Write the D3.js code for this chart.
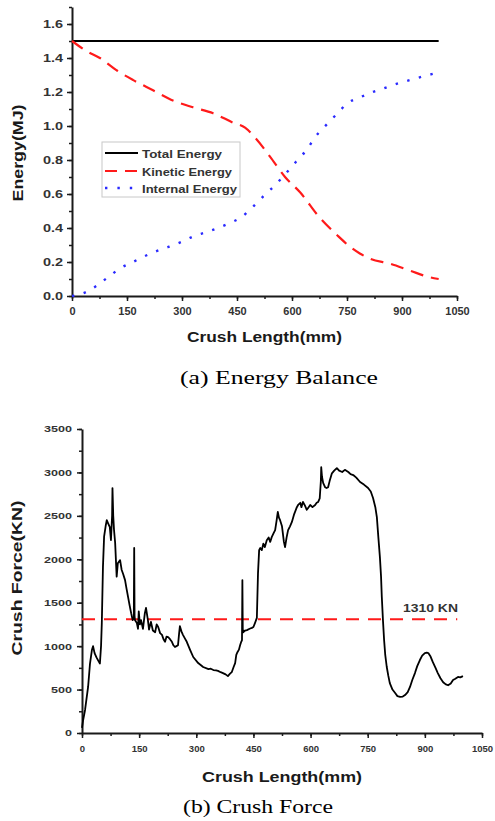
<!DOCTYPE html>
<html><head><meta charset="utf-8">
<script src="https://cdn.jsdelivr.net/npm/d3@7"></script>
<style>body{margin:0;background:#fff}svg{display:block}</style>
</head><body><svg id="c" width="495" height="821"></svg>
<script>
// ---------- data ----------
const lengthTicks = [0,150,300,450,600,750,900,1050];
const energyTicks = [0,0.2,0.4,0.6,0.8,1.0,1.2,1.4,1.6];
const forceTicks = [0,500,1000,1500,2000,2500,3000,3500];
const legendLabels = ["Total Energy","Kinetic Energy","Internal Energy"];
const totalEnergy = [[0,1.5],[1000,1.5]];
const kineticEnergy = [[0,1.5],[40,1.44],[76,1.40],[120,1.33],[167,1.27],[221,1.21],[270,1.155],[330,1.11],[385,1.075],[439,1.02],[472,0.99],[500,0.93],[540,0.82],[581,0.70],[622,0.61],[676,0.46],[722,0.36],[758,0.29],[785,0.25],[812,0.22],[867,0.19],[921,0.15],[976,0.11],[1000,0.10]];
const internalEnergy = [[0,0],[35,0.02],[67,0.06],[98,0.11],[133,0.165],[166,0.2],[199,0.235],[232,0.265],[265,0.29],[300,0.32],[330,0.35],[365,0.375],[398,0.40],[431,0.43],[463,0.465],[496,0.53],[521,0.585],[553,0.65],[583,0.72],[611,0.79],[640,0.86],[665,0.94],[693,1.005],[722,1.07],[752,1.135],[787,1.17],[820,1.20],[848,1.22],[881,1.245],[913,1.265],[946,1.285],[981,1.305],[1000,1.315]];
const crushForce = [[0,60],[3,150],[8,265],[16,530],[21,800],[26,955],[29,1000],[33,920],[38,870],[43,830],[47,800],[50,1000],[52,1265],[55,1910],[58,2260],[62,2380],[65,2450],[68,2420],[73,2370],[76,2220],[79,2500],[80,2820],[82,2500],[84,2340],[87,2190],[91,1800],[94,1955],[100,1990],[104,1880],[108,1830],[113,1760],[117,1660],[121,1565],[125,1470],[129,1380],[133,1300],[136,1320],[137,2130],[138,1350],[139,1300],[144,1265],[147,1200],[149,1400],[152,1250],[155,1300],[160,1200],[165,1380],[168,1440],[173,1300],[176,1190],[181,1280],[186,1180],[192,1160],[196,1250],[200,1220],[205,1150],[210,1130],[214,1080],[218,1050],[222,1110],[226,1105],[231,1080],[236,1050],[240,1010],[244,990],[248,1000],[252,1010],[255,1150],[257,1230],[261,1170],[265,1130],[270,1090],[275,1050],[284,955],[292,875],[305,805],[318,760],[332,735],[338,740],[345,725],[352,720],[357,715],[364,700],[370,690],[377,675],[383,655],[388,680],[393,700],[398,760],[402,805],[405,900],[408,930],[412,960],[415,1010],[418,1050],[420,1070],[421,1760],[422,1200],[423,1160],[428,1180],[433,1185],[440,1200],[446,1210],[450,1220],[454,1265],[459,1325],[462,1840],[465,2105],[468,2130],[472,2105],[476,2180],[480,2140],[485,2220],[490,2250],[494,2200],[498,2255],[503,2300],[507,2335],[511,2450],[514,2545],[517,2480],[520,2450],[525,2380],[530,2200],[533,2140],[537,2250],[541,2335],[546,2380],[551,2430],[557,2520],[564,2600],[568,2630],[573,2650],[576,2600],[580,2660],[585,2620],[590,2570],[595,2600],[599,2625],[605,2600],[612,2625],[616,2650],[620,2660],[624,2700],[627,2900],[628,3060],[630,2950],[633,2880],[638,2830],[642,2820],[646,2830],[650,2900],[656,2990],[662,3020],[669,3050],[675,3020],[683,3005],[690,3030],[699,3005],[705,2980],[712,2970],[720,2940],[730,2890],[740,2860],[751,2820],[758,2780],[764,2705],[770,2600],[774,2485],[778,2250],[782,2025],[785,1800],[787,1565],[790,1300],[793,1070],[796,900],[800,760],[804,660],[808,575],[815,500],[822,460],[828,425],[835,415],[842,420],[848,437],[855,470],[861,530],[867,610],[874,690],[880,770],[887,840],[893,890],[900,920],[905,925],[909,920],[915,880],[921,815],[928,750],[934,690],[941,630],[948,585],[955,560],[961,550],[968,570],[974,610],[980,625],[987,645],[993,640],[1000,655]];
const meanForce = 1310;
const meanForceRange = [0,985];
const meanForceLabel = "1310 KN";

// ---------- drawing ----------
const svg = d3.select("#c");
const FONT = "'Liberation Sans', Arial, sans-serif";
const INK = "#1a1a1a";

function stretch(sel, perChar){
  sel.attr("textLength", function(){ return this.textContent.length*perChar; })
     .attr("lengthAdjust","spacingAndGlyphs");
}

function drawAxes(g, x, y, o){
  // minor ticks
  const xm = g.append("g").attr("transform",`translate(0,${y.range()[0]})`)
    .call(d3.axisBottom(x).tickValues(o.xMinor).tickSize(3).tickFormat(""));
  xm.select(".domain").remove();
  const ym = g.append("g").attr("transform",`translate(${x.range()[0]},0)`)
    .call(d3.axisLeft(y).tickValues(o.yMinor).tickSize(3).tickFormat(""));
  ym.select(".domain").remove();
  // major axes
  const xa = g.append("g").attr("transform",`translate(0,${y.range()[0]})`)
    .call(d3.axisBottom(x).tickValues(o.xTicks).tickSize(5).tickSizeOuter(0).tickPadding(o.xPad).tickFormat(d3.format("d")));
  const ya = g.append("g").attr("transform",`translate(${x.range()[0]},0)`)
    .call(d3.axisLeft(y).tickValues(o.yTicks).tickSize(5).tickSizeOuter(0).tickPadding(o.yPad).tickFormat(o.yFmt));
  [xm,ym,xa,ya].forEach(a=>{
    a.selectAll(".tick line").attr("stroke",INK).attr("stroke-width",1.5);
    a.select(".domain").attr("stroke",INK).attr("stroke-width",2);
    a.selectAll("text").attr("font-family",FONT).attr("font-weight","bold").attr("fill","#333");
  });
  xa.selectAll("text").attr("font-size",o.xFs);
  ya.selectAll("text").attr("font-size",o.yFs);
  stretch(xa.selectAll("text"), o.xCw);
  stretch(ya.selectAll("text"), o.yCw);
}

function title(x, y, txt, size, len, rot, serif){
  const t = svg.append("text")
    .attr("transform", `translate(${x},${y})` + (rot ? " rotate(-90)" : ""))
    .attr("text-anchor","middle")
    .attr("font-family", serif ? "'Liberation Serif','Times New Roman',serif" : FONT)
    .attr("font-weight", serif ? "normal" : "bold")
    .attr("font-size", size).attr("fill", serif ? "#000" : INK)
    .text(txt);
  if(len) t.attr("textLength",len).attr("lengthAdjust","spacingAndGlyphs");
  return t;
}

// ===== Chart (a) =====
const xa = d3.scaleLinear().domain([0,1050]).range([72,457]);
const ya = d3.scaleLinear().domain([0,1.7]).range([296,7]);
const ga = svg.append("g");
drawAxes(ga, xa, ya, {
  xTicks: lengthTicks, yTicks: energyTicks,
  xMinor: d3.range(0,1051,75), yMinor: d3.range(0,17.5,1).map(v=>v/10),
  yFmt: d3.format(".1f"), xPad: 7, yPad: 4, xFs: "10px", yFs: "10px", xCw: 6.1, yCw: 6.7
});
const lineA = d3.line().x(d=>xa(d[0])).y(d=>ya(d[1])).curve(d3.curveMonotoneX);
ga.append("path").attr("d", lineA(totalEnergy)).attr("fill","none").attr("stroke","#000").attr("stroke-width",2);
ga.append("path").attr("d", lineA(kineticEnergy)).attr("fill","none").attr("stroke","#ff1a1a").attr("stroke-width",2.2).attr("stroke-dasharray","13 8");
ga.append("path").attr("d", lineA(internalEnergy)).attr("fill","none").attr("stroke","#2a2aff").attr("stroke-width",2.4).attr("stroke-dasharray","2.4 9.6");

// legend
const lg = ga.append("g");
lg.append("rect").attr("x",102).attr("y",142).attr("width",138).attr("height",55)
  .attr("fill","#fff").attr("stroke","#c8c8c8").attr("stroke-width",1);
const legStyles = [
  {stroke:"#000", dash:null, w:2},
  {stroke:"#ff1a1a", dash:"12 8", w:2.2},
  {stroke:"#2a2aff", dash:"2.4 10", w:2.4}
];
const legY = [153,171,188];
const legLen = [80,90,95];
legendLabels.forEach((lab,i)=>{
  lg.append("line").attr("x1",105).attr("x2",138).attr("y1",legY[i]).attr("y2",legY[i])
    .attr("stroke",legStyles[i].stroke).attr("stroke-width",legStyles[i].w)
    .attr("stroke-dasharray",legStyles[i].dash);
  lg.append("text").attr("x",142).attr("y",legY[i]+4.5)
    .attr("font-family",FONT).attr("font-weight","bold").attr("font-size","11.5px").attr("fill","#333")
    .attr("textLength",legLen[i]).attr("lengthAdjust","spacingAndGlyphs").text(lab);
});

title(23, 153, "Energy(MJ)", "14px", 97, true);
title(264.5, 342, "Crush Length(mm)", "14px", 155, false);
title(279, 384, "(a)    Energy Balance", "18px", 198, false, true);

// ===== Chart (b) =====
const xb = d3.scaleLinear().domain([0,1050]).range([82,482]);
const yb = d3.scaleLinear().domain([0,3500]).range([733,429]);
const gb = svg.append("g");
drawAxes(gb, xb, yb, {
  xTicks: lengthTicks, yTicks: forceTicks,
  xMinor: d3.range(0,1051,75), yMinor: d3.range(0,3501,250),
  yFmt: d3.format("d"), xPad: 8, yPad: 5, xFs: "9px", yFs: "9px", xCw: 5.3, yCw: 7
});
gb.append("line").attr("x1",xb(meanForceRange[0])).attr("x2",xb(meanForceRange[1]))
  .attr("y1",yb(meanForce)).attr("y2",yb(meanForce))
  .attr("stroke","#ff1a1a").attr("stroke-width",2).attr("stroke-dasharray","13 9");
const lineB = d3.line().x(d=>xb(d[0])).y(d=>yb(d[1]));
gb.append("path").attr("d", lineB(crushForce)).attr("fill","none").attr("stroke","#000")
  .attr("stroke-width",1.8).attr("stroke-linejoin","round");
gb.append("text").attr("x",430.5).attr("y",612).attr("text-anchor","middle")
  .attr("font-family",FONT).attr("font-weight","bold").attr("font-size","11px").attr("fill","#333")
  .attr("textLength",55).attr("lengthAdjust","spacingAndGlyphs").text(meanForceLabel);

title(22, 578, "Crush Force(KN)", "14px", 155, true);
title(282, 782, "Crush Length(mm)", "14px", 160, false);
title(258, 813, "(b) Crush Force", "18px", 150, false, true);
</script></body></html>
